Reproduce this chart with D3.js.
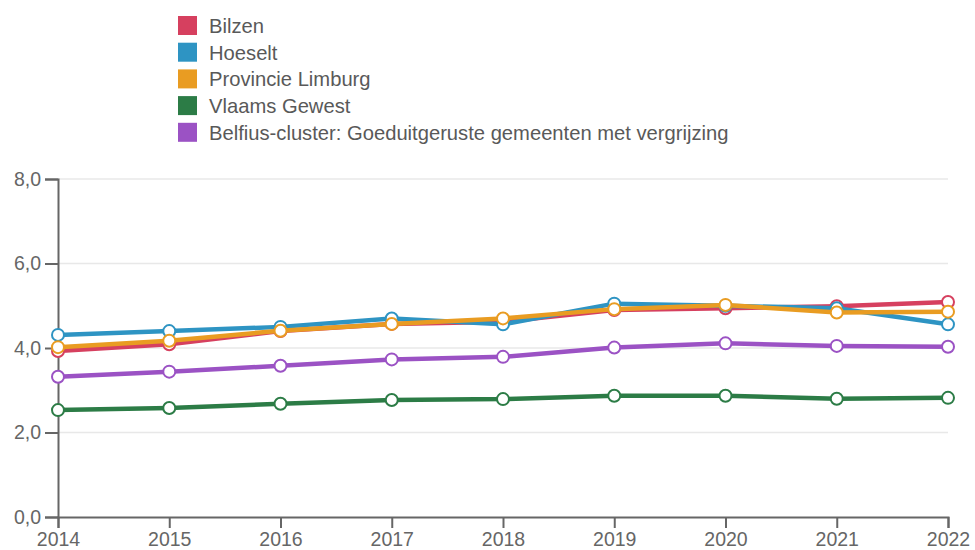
<!DOCTYPE html>
<html>
<head>
<meta charset="utf-8">
<script src="https://cdn.jsdelivr.net/npm/d3@7"></script>
<style>
  body { margin: 0; background: #fff; font-family: "Liberation Sans", Arial, sans-serif; }
</style>
</head>
<body>
<div id="chart-area"></div>
<script>
// data
let years = [2014, 2015, 2016, 2017, 2018, 2019, 2020, 2021, 2022];
let seriesNames = ["Bilzen", "Hoeselt", "Provincie Limburg", "Vlaams Gewest",
	"Belfius-cluster: Goeduitgeruste gemeenten met vergrijzing"];
let bilzen = [3.93, 4.09, 4.40, 4.57, 4.62, 4.90, 4.94, 4.99, 5.09];
let hoeselt = [4.31, 4.40, 4.50, 4.70, 4.56, 5.05, 5.00, 4.94, 4.56];
let limburg = [4.02, 4.17, 4.41, 4.57, 4.70, 4.92, 5.02, 4.84, 4.86];
let vlaams = [2.53, 2.58, 2.68, 2.77, 2.79, 2.87, 2.87, 2.80, 2.82];
let belfius = [3.32, 3.44, 3.58, 3.73, 3.79, 4.01, 4.11, 4.05, 4.03];
let yTicks = [0, 2, 4, 6, 8];

let colors = ["#d6405f", "#2e94c3", "#e99c22", "#2c7c46", "#9b52c4"];
let allSeries = [bilzen, hoeselt, limburg, vlaams, belfius];

let svg = d3.select("#chart-area").append("svg")
	.attr("width", 975)
	.attr("height", 550);

let x = d3.scaleLinear()
	.domain([2014, 2022])
	.range([58, 948]);

let y = d3.scaleLinear()
	.domain([0, 8])
	.range([517, 179]);

let fmt = (d) => d3.format(".1f")(d).replace(".", ",");

// grid
svg.selectAll("line.grid").data(yTicks.slice(1)).enter()
	.append("line")
	.attr("class", "grid")
	.attr("x1", 58).attr("x2", 948)
	.attr("y1", (d) => y(d)).attr("y2", (d) => y(d))
	.attr("stroke", "#e8e8e8")
	.attr("stroke-width", 1.5);

// axes
let yAxis = svg.append("g")
	.attr("transform", "translate(58,0)")
	.call(d3.axisLeft(y).tickValues(yTicks).tickFormat(fmt).tickSize(13).tickPadding(4));
let xAxis = svg.append("g")
	.attr("transform", "translate(0,517)")
	.call(d3.axisBottom(x).tickValues(years).tickFormat(d3.format("d")).tickSize(11).tickPadding(4));

[yAxis, xAxis].forEach((a) => {
	a.selectAll("path, line").attr("stroke", "#666").attr("stroke-width", 2);
	a.selectAll("text").attr("fill", "#666").style("font-size", "19.5px")
		.style("font-family", "'Liberation Sans', Arial, sans-serif");
});

// lines
let line = d3.line()
	.x((d, i) => x(years[i]))
	.y((d) => y(d));

allSeries.forEach((s, k) => {
	svg.append("path")
		.datum(s)
		.attr("d", line)
		.attr("fill", "none")
		.attr("stroke", colors[k])
		.attr("stroke-width", 4.5)
		.attr("stroke-linejoin", "round");
	svg.selectAll("circle.s" + k).data(s).enter()
		.append("circle")
		.attr("class", "s" + k)
		.attr("cx", (d, i) => x(years[i]))
		.attr("cy", (d) => y(d))
		.attr("r", 6)
		.attr("fill", "#fff")
		.attr("stroke", colors[k])
		.attr("stroke-width", 2);
});

// legend
let legend = svg.selectAll("g.legend").data(seriesNames).enter()
	.append("g")
	.attr("class", "legend")
	.attr("transform", (d, i) => "translate(178," + (16 + i * 26.7) + ")");
legend.append("rect")
	.attr("width", 19).attr("height", 19)
	.attr("fill", (d, i) => colors[i]);
legend.append("text")
	.attr("x", 31).attr("y", 17)
	.attr("fill", "#595959")
	.style("font-size", "20.2px")
	.text((d) => d);
</script>
</body>
</html>
